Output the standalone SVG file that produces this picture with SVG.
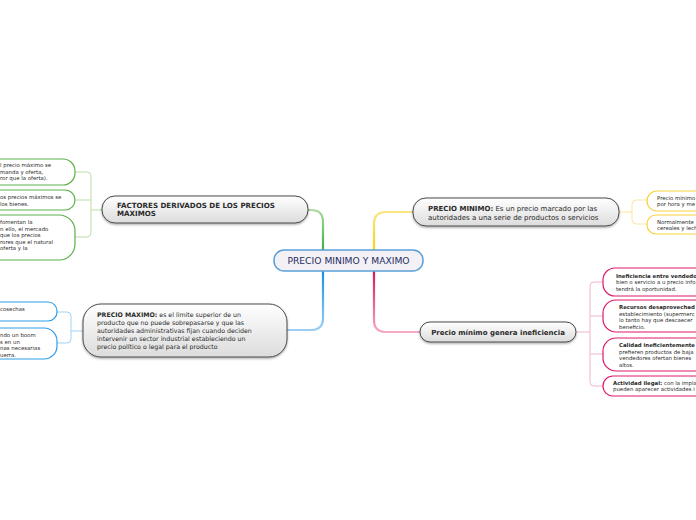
<svg xmlns="http://www.w3.org/2000/svg" width="696" height="520" viewBox="0 0 696 520">
<defs>
<linearGradient id="ng" x1="0" y1="0" x2="0" y2="1">
<stop offset="0" stop-color="#ffffff"/><stop offset="1" stop-color="#dcdcdc"/>
</linearGradient>
<linearGradient id="gG" gradientUnits="userSpaceOnUse" x1="0" y1="250" x2="0" y2="205"><stop offset="0" stop-color="#3fae49"/><stop offset="1" stop-color="#b8e0a8"/></linearGradient>
<linearGradient id="gB" gradientUnits="userSpaceOnUse" x1="0" y1="272" x2="0" y2="336"><stop offset="0" stop-color="#1e90e6"/><stop offset="1" stop-color="#a8d6f5"/></linearGradient>
<linearGradient id="gY" gradientUnits="userSpaceOnUse" x1="0" y1="250" x2="0" y2="208"><stop offset="0" stop-color="#f7d21a"/><stop offset="1" stop-color="#fbe68a"/></linearGradient>
<linearGradient id="gP" gradientUnits="userSpaceOnUse" x1="0" y1="272" x2="0" y2="336"><stop offset="0" stop-color="#e0145e"/><stop offset="1" stop-color="#f7b3cc"/></linearGradient>
<filter id="sh" x="-10%" y="-20%" width="120%" height="150%"><feDropShadow dx="0" dy="1.2" stdDeviation="1" flood-color="#000" flood-opacity="0.35"/></filter>
</defs>
<style>
text{font-family:"DejaVu Sans",Verdana,sans-serif;fill:#2a2a2a}
.main{fill:url(#ng);stroke:#4a4a4a;stroke-width:1;filter:url(#sh)}
.mt{font-size:6.5px}
.b{font-weight:bold}
.st{font-size:5.4px}
.sub{fill:#fff;stroke-width:1.2}
.sg{stroke:#5cb048}.sb{stroke:#2f9ee8}.sy{stroke:#f5d33a}.sp{stroke:#e0186a}
.c{fill:none;stroke-linecap:round}
</style>
<g id="connectors">
<path class="c" d="M323,250 V222 Q323,210 311,210 H308" stroke="url(#gG)" stroke-width="2.2"/>
<path class="c" d="M323,272 V318 Q323,330 311,330 H288" stroke="url(#gB)" stroke-width="2.2"/>
<path class="c" d="M374,250 V224 Q374,212 386,212 H413" stroke="url(#gY)" stroke-width="2.2"/>
<path class="c" d="M374,272 V320 Q374,332 386,332 H420" stroke="url(#gP)" stroke-width="2.2"/>
<g stroke="#b9e0a9" stroke-width="1" fill="none">
<path d="M102,210 H91"/><path d="M75,172 H87 Q91,172 91,176 V233 Q91,237 87,237 H75"/><path d="M91,200 H75"/>
</g>
<g stroke="#9fd2f5" stroke-width="1" fill="none">
<path d="M83,331 H71"/><path d="M57,312 H67 Q71,312 71,316 V339 Q71,343 67,343 H57"/>
</g>
<g stroke="#fbe79a" stroke-width="1" fill="none">
<path d="M620,212 H632"/><path d="M647,200 H636 Q632,200 632,204 V220 Q632,224 636,224 H647"/>
</g>
<g stroke="#f5b3cd" stroke-width="1" fill="none">
<path d="M577,332 H590"/><path d="M603,282 H594 Q590,282 590,286 V382 Q590,386 594,386 H603"/><path d="M590,316 H603"/><path d="M590,354 H603"/>
</g>
</g>
<g id="center">
<rect x="274" y="250" width="149" height="21" rx="10" fill="#f3f1f6" stroke="#5b9fd8" stroke-width="1.5"/>
<text x="348.5" y="264" text-anchor="middle" style="font-size:9.2px;fill:#1f2c5e">PRECIO MINIMO Y MAXIMO</text>
</g>
<g id="factores">
<rect class="main" x="102" y="196" width="206" height="27" rx="13"/>
<text class="b" style="font-size:7.1px" x="117" y="207.5">FACTORES DERIVADOS DE LOS PRECIOS</text>
<text class="b" style="font-size:7.1px" x="117" y="215.5">MAXIMOS</text>
</g>
<g id="precio-maximo">
<rect class="main" x="83" y="304" width="204" height="53" rx="18"/>
<text style="font-size:6.25px" x="97" y="317"><tspan class="b">PRECIO MAXIMO:</tspan> es el limite superior de un</text>
<text style="font-size:6.25px" x="97" y="325">producto que no puede sobrepasarse y que las</text>
<text style="font-size:6.25px" x="97" y="333">autoridades administrativas fijan cuando deciden</text>
<text style="font-size:6.25px" x="97" y="341">intervenir un sector industrial estableciendo un</text>
<text style="font-size:6.25px" x="97" y="349">precio político o legal para el producto</text>
</g>
<g id="precio-minimo">
<rect class="main" x="413" y="198" width="206" height="28" rx="13"/>
<text style="font-size:7px" x="428" y="210.5"><tspan class="b">PRECIO MINIMO:</tspan> Es un precio marcado por las</text>
<text style="font-size:7px" x="428" y="219.5">autoridades a una serie de productos o servicios</text>
</g>
<g id="ineficiencia">
<rect class="main" x="420" y="322" width="156" height="20" rx="10"/>
<text class="b" style="font-size:7px" x="498" y="334.5" text-anchor="middle">Precio mínimo genera ineficiencia</text>
</g>
<g id="g1">
<rect class="sub sg" x="-30" y="159" width="105" height="26" rx="12"/>
<text class="st" x="0" y="167">l precio máximo se</text>
<text class="st" x="0" y="173.5">manda y oferta,</text>
<text class="st" x="0" y="180">ror  que  la  oferta).</text>
</g>
<g id="g2">
<rect class="sub sg" x="-30" y="190" width="105" height="20" rx="10"/>
<text class="st" x="0" y="199">os precios máximos se</text>
<text class="st" x="0" y="205.5"> los bienes.</text>
</g>
<g id="g3">
<rect class="sub sg" x="-30" y="215" width="105" height="45" rx="16"/>
<text class="st" x="0" y="224">  fomentan la</text>
<text class="st" x="0" y="230.5">n ello, el mercado</text>
<text class="st" x="0" y="237">que los precios</text>
<text class="st" x="0" y="243.5">rores que el natural</text>
<text class="st" x="0" y="250">oferta y la</text>
</g>
<g id="b1">
<rect class="sub sb" x="-30" y="302" width="87" height="19" rx="9"/>
<text class="st" x="0" y="311">cosechas</text>
</g>
<g id="b2">
<rect class="sub sb" x="-30" y="328" width="87" height="31" rx="13"/>
<text class="st" x="0" y="337">ndo un boom</text>
<text class="st" x="0" y="343.5">s en un</text>
<text class="st" x="0" y="350">nas necesarias</text>
<text class="st" x="0" y="356.5">uerra.</text>
</g>
<g id="y1">
<rect class="sub sy" x="647" y="191" width="80" height="20" rx="10"/>
<text class="st" x="657" y="199.5">Precio mínimo</text>
<text class="st" x="657" y="206">por hora y me</text>
</g>
<g id="y2">
<rect class="sub sy" x="647" y="215" width="80" height="19" rx="9"/>
<text class="st" x="657" y="223.5">Normalmente</text>
<text class="st" x="657" y="230">cereales y lech</text>
</g>
<g id="p1">
<rect class="sub sp" x="603" y="268" width="110" height="28" rx="12"/>
<text class="st b" x="616" y="277.5">Ineficiencia entre vendedo</text>
<text class="st" x="616" y="284">bien o servicio a u precio info</text>
<text class="st" x="616" y="290.5">tendrá la oportunidad.</text>
</g>
<g id="p2">
<rect class="sub sp" x="603" y="300" width="110" height="32" rx="13"/>
<text class="st b" x="619" y="309">Recursos desaprovechad</text>
<text class="st" x="619" y="315.5">establecimiento (supermerc</text>
<text class="st" x="619" y="322">lo tanto hay que descaecer</text>
<text class="st" x="619" y="328.5">beneficio.</text>
</g>
<g id="p3">
<rect class="sub sp" x="603" y="338" width="110" height="33" rx="13"/>
<text class="st b" x="619" y="347">Calidad ineficientemente</text>
<text class="st" x="619" y="353.5">prefieren productos de baja</text>
<text class="st" x="619" y="360">vendedores ofertan bienes</text>
<text class="st" x="619" y="366.5">altos.</text>
</g>
<g id="p4">
<rect class="sub sp" x="603" y="376" width="110" height="20" rx="10"/>
<text class="st" x="613" y="384.5"><tspan class="b">Actividad ilegal:</tspan> con la implan</text>
<text class="st" x="613" y="391">pueden aparecer actividades i</text>
</g>
</svg>
